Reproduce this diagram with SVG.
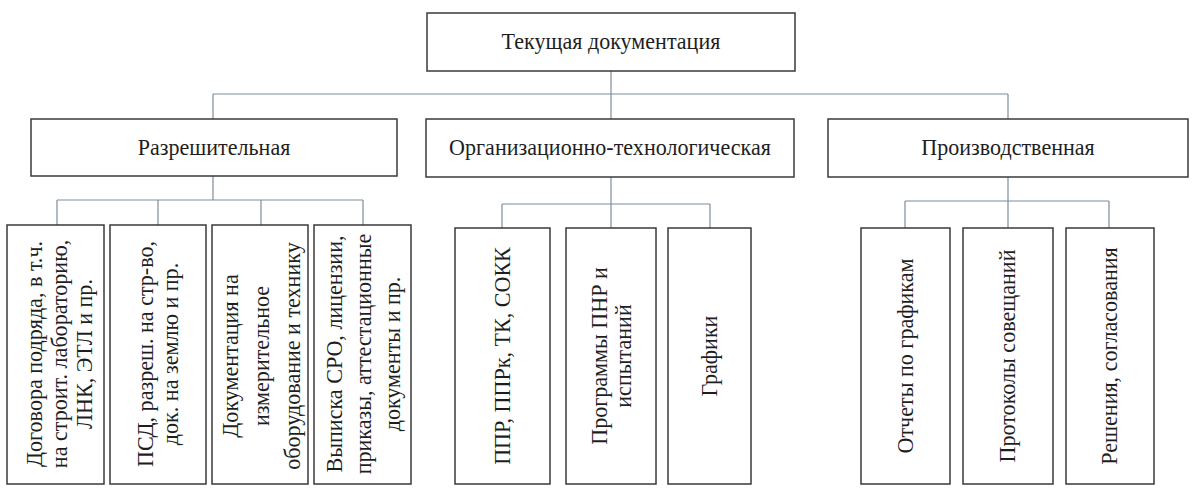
<svg xmlns="http://www.w3.org/2000/svg" width="1200" height="489" viewBox="0 0 1200 489">
<style>
.box{fill:#ffffff;stroke:#3a3a3a;stroke-width:1.5}
.lbl{font-family:"Liberation Serif","Times New Roman",serif;font-size:24px;fill:#1e1e1e;text-anchor:middle}
.conn{fill:none;stroke:#7f8d9b;stroke-width:1.2}
</style>
<rect width="1200" height="489" fill="#ffffff"/>
<g id="connectors">
<path class="conn" d="M611,71 V119 M213,94 H1008 M213,94 V119 M1008,94 V119"/>
<path class="conn" d="M213,176 V200 M57,200 H363 M57,200 V225 M158,200 V225 M261,200 V225 M363,200 V225"/>
<path class="conn" d="M611,177 V228 M502,204 H710 M502,204 V228 M710,204 V228"/>
<path class="conn" d="M1008,177 V228 M905,201 H1109 M905,201 V228 M1109,201 V228"/>
</g>
<g id="root">
<rect class="box" x="427" y="13" width="368" height="58"/>
<text class="lbl" transform="translate(611,49) scale(0.92,1)">Текущая документация</text>
</g>
<g id="permit">
<rect class="box" x="31" y="119" width="366" height="57"/>
<text class="lbl" transform="translate(214,155) scale(0.92,1)">Разрешительная</text>
</g>
<g id="orgtech">
<rect class="box" x="426" y="119" width="368" height="58"/>
<text class="lbl" transform="translate(610,155) scale(0.92,1)">Организационно-технологическая</text>
</g>
<g id="production">
<rect class="box" x="828" y="119" width="360" height="58"/>
<text class="lbl" transform="translate(1008,155) scale(0.92,1)">Производственная</text>
</g>
<g id="p1">
<rect class="box" x="7" y="225" width="97" height="259"/>
<text class="lbl" transform="translate(42,354) rotate(-90) scale(0.92,1)"><tspan x="0" y="0">Договора подряда, в т.ч.</tspan><tspan x="0" y="25">на строит. лабораторию,</tspan><tspan x="0" y="50">ЛНК, ЭТЛ и пр.</tspan></text>
</g>
<g id="p2">
<rect class="box" x="110" y="225" width="96" height="259"/>
<text class="lbl" transform="translate(153,354) rotate(-90) scale(0.92,1)"><tspan x="0" y="0">ПСД, разреш. на стр-во,</tspan><tspan x="0" y="25">док. на землю и пр.</tspan></text>
</g>
<g id="p3">
<rect class="box" x="212" y="225" width="96" height="259"/>
<text class="lbl" transform="translate(238,356) rotate(-90) scale(0.92,1)"><tspan x="0" y="0">Документация на</tspan><tspan x="0" y="31">измерительное</tspan><tspan x="0" y="62">оборудование и технику</tspan></text>
</g>
<g id="p4">
<rect class="box" x="314" y="225" width="97" height="259"/>
<text class="lbl" transform="translate(342,354) rotate(-90) scale(0.92,1)"><tspan x="0" y="0">Выписка СРО, лицензии,</tspan><tspan x="0" y="29">приказы, аттестационные</tspan><tspan x="0" y="58">документы и пр.</tspan></text>
</g>
<g id="o1">
<rect class="box" x="455" y="228" width="95" height="256"/>
<text class="lbl" transform="translate(510,356) rotate(-90) scale(0.92,1)">ППР, ППРк, ТК, СОКК</text>
</g>
<g id="o2">
<rect class="box" x="566" y="228" width="90" height="256"/>
<text class="lbl" transform="translate(607,356) rotate(-90) scale(0.92,1)"><tspan x="0" y="0">Программы ПНР и</tspan><tspan x="0" y="24">испытаний</tspan></text>
</g>
<g id="o3">
<rect class="box" x="668" y="228" width="83" height="256"/>
<text class="lbl" transform="translate(717,356) rotate(-90) scale(0.92,1)">Графики</text>
</g>
<g id="r1">
<rect class="box" x="861" y="228" width="89" height="256"/>
<text class="lbl" transform="translate(913,356) rotate(-90) scale(0.92,1)">Отчеты по графикам</text>
</g>
<g id="r2">
<rect class="box" x="963" y="228" width="90" height="256"/>
<text class="lbl" transform="translate(1015,356) rotate(-90) scale(0.92,1)">Протоколы совещаний</text>
</g>
<g id="r3">
<rect class="box" x="1066" y="228" width="88" height="256"/>
<text class="lbl" transform="translate(1117,356) rotate(-90) scale(0.92,1)">Решения, согласования</text>
</g>
</svg>
